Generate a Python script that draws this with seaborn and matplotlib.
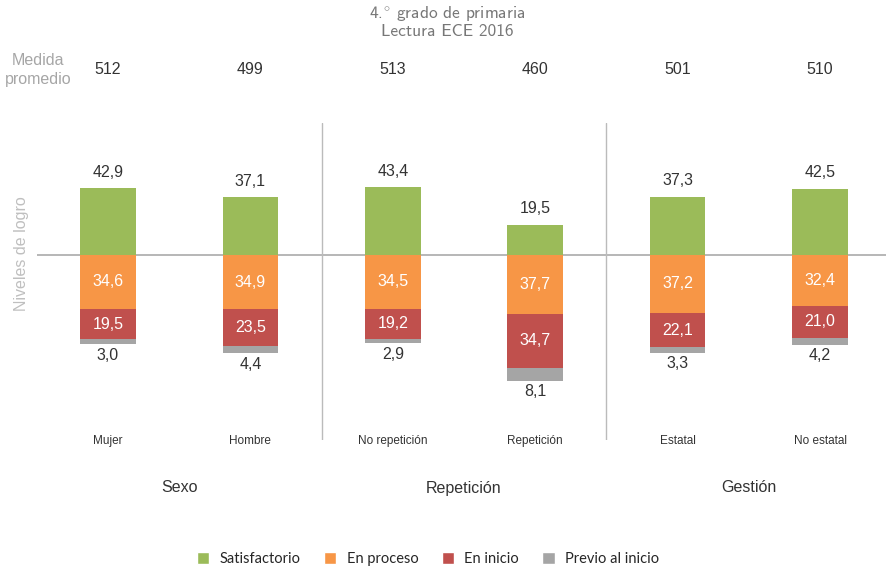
import matplotlib
matplotlib.use("Agg")
import matplotlib.pyplot as plt
from matplotlib.patches import Patch
import numpy as np
import pandas as pd
import seaborn as sns

# datos (porcentajes por nivel de logro)
categorias = ["Mujer", "Hombre", "No repetición", "Repetición", "Estatal", "No estatal"]
grupos = ["Sexo", "Repetición", "Gestión"]
medida_promedio = [512, 499, 513, 460, 501, 510]
satisfactorio = [42.9, 37.1, 43.4, 19.5, 37.3, 42.5]
en_proceso = [34.6, 34.9, 34.5, 37.7, 37.2, 32.4]
en_inicio = [19.5, 23.5, 19.2, 34.7, 22.1, 21.0]
previo = [3.0, 4.4, 2.9, 8.1, 3.3, 4.2]

niveles = ["Satisfactorio", "En proceso", "En inicio", "Previo al inicio"]
colores = {"Satisfactorio": "#9BBB59", "En proceso": "#F79646",
           "En inicio": "#C0504D", "Previo al inicio": "#A5A5A5"}

df = pd.DataFrame({
    "categoria": categorias,
    "satisfactorio": satisfactorio,
    "en_proceso": en_proceso,
    "en_inicio": en_inicio,
    "previo": previo,
})
# barras negativas apiladas (se dibujan de mayor a menor)
df["neg_proceso"] = -df.en_proceso
df["neg_inicio"] = -(df.en_proceso + df.en_inicio)
df["neg_previo"] = -(df.en_proceso + df.en_inicio + df.previo)

sns.set_style("white")
plt.rcParams["font.family"] = ["Liberation Sans", "DejaVu Sans"]
plt.rcParams["mathtext.fontset"] = "cm"

fig = plt.figure(figsize=(8.87, 5.67), dpi=100)
ax = fig.add_axes([37 / 887, 1 - 440 / 567, 850 / 887, 317 / 567])

bar_kw = dict(x="categoria", width=0.39, saturation=1, linewidth=0, ax=ax)
sns.barplot(data=df, y="satisfactorio", color=colores["Satisfactorio"], **bar_kw)
sns.barplot(data=df, y="neg_previo", color=colores["Previo al inicio"], **bar_kw)
sns.barplot(data=df, y="neg_inicio", color=colores["En inicio"], **bar_kw)
sns.barplot(data=df, y="neg_proceso", color=colores["En proceso"], **bar_kw)

fmt = lambda v: f"{v:.1f}".replace(".", ",")
txt = "#333333"
for i, row in df.iterrows():
    ax.annotate(fmt(row.satisfactorio), (i, row.satisfactorio), xytext=(0, 11.5),
                textcoords="offset points", ha="center", va="center", fontsize=11.5, color=txt)
    ax.annotate(fmt(row.en_proceso), (i, row.neg_proceso / 2), ha="center", va="center",
                fontsize=11.5, color="white")
    ax.annotate(fmt(row.en_inicio), (i, (row.neg_proceso + row.neg_inicio) / 2),
                ha="center", va="center", fontsize=11.5, color="white")
    ax.annotate(fmt(row.previo), (i, row.neg_previo), xytext=(0, -8),
                textcoords="offset points", ha="center", va="center", fontsize=11.5, color=txt)
    ax.annotate(str(medida_promedio[i]), (i, 1 - 70 / 567), xycoords=("data", "figure fraction"),
                ha="center", va="center", fontsize=11.5, color=txt)

for j, g in enumerate(grupos):
    ax.annotate(g, (2 * j + 0.5, 1 - 488 / 567), xycoords=("data", "figure fraction"),
                ha="center", va="center", fontsize=11.5, color=txt)

ax.axhline(0, color="#AAAAAA", linewidth=1.2, zorder=0)
for xs in [1.5, 3.5]:
    ax.axvline(xs, color="#BBBBBB", linewidth=1)

ax.set_xlim(-0.4986, 5.47)
ax.set_ylim(-118.6, 84.6)
ax.set_xticks(range(len(categorias)), labels=categorias)
ax.tick_params(axis="x", length=0, pad=-3.5, labelsize=8.5, labelcolor=txt)
ax.set_yticks([])
ax.set_xlabel("")
ax.set_ylabel("")
sns.despine(ax=ax, left=True, bottom=True)

fig.text(38 / 887, 1 - 70 / 567, "Medida\npromedio", ha="center", va="center",
         fontsize=11.5, color="#A6A6A6", linespacing=1.35)
fig.text(22 / 887, 1 - 254 / 567, "Niveles de logro", rotation=90, ha="center", va="center",
         fontsize=11.5, color="#BFBFBF")
fig.text(447 / 887, 1 - 22 / 567, "4.$^{\\circ}$ grado de primaria\nLectura ECE 2016",
         ha="center", va="center", fontsize=12.5, color="#777777", linespacing=1.0,
         family=["cmss10", "DejaVu Sans"])

handles = [Patch(facecolor=colores[n], label=n) for n in niveles]
fig.legend(handles=handles, loc="center", bbox_to_anchor=(428 / 887, 1 - 559 / 567), ncol=4,
           frameon=False, handlelength=0.85, handleheight=0.85, columnspacing=1.6,
           handletextpad=0.7, prop={"family": "Lato", "size": 10.5})

fig.savefig("out.png", dpi=100)
